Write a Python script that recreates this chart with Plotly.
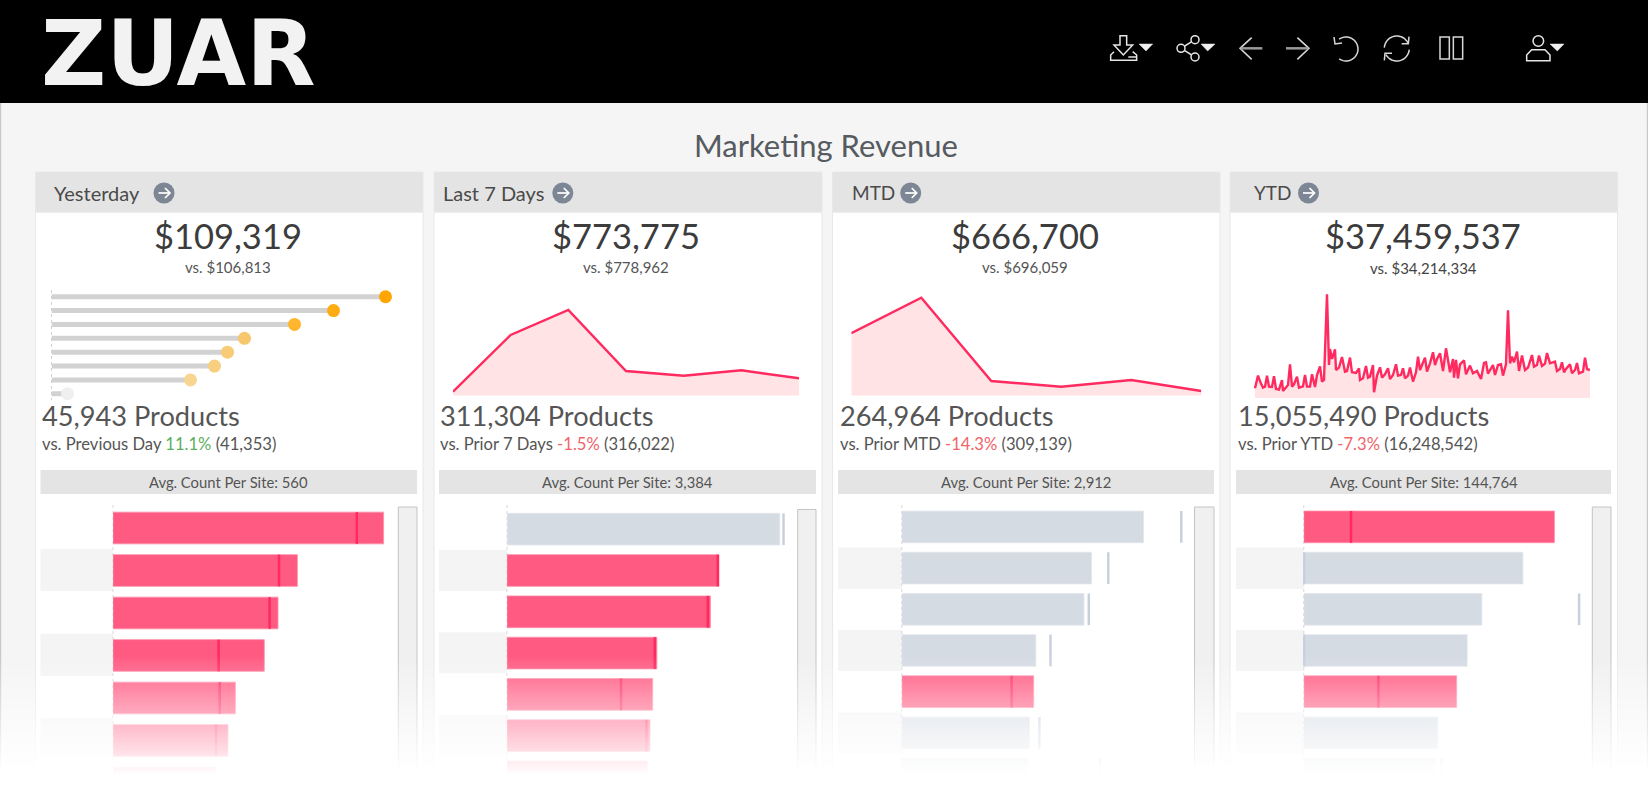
import math
import plotly.graph_objects as go

# ---------- data ----------
panel_names = ["Yesterday", "Last 7 Days", "MTD", "YTD"]
revenue_labels = ["$109,319", "$773,775", "$666,700", "$37,459,537"]
prior_revenue_labels = ["vs. $106,813", "vs. $778,962", "vs. $696,059", "vs. $34,214,334"]
product_labels = ["45,943 Products", "311,304 Products", "264,964 Products", "15,055,490 Products"]
compare_names = ["vs. Previous Day", "vs. Prior 7 Days", "vs. Prior MTD", "vs. Prior YTD"]
compare_pcts = ["11.1%", "-1.5%", "-14.3%", "-7.3%"]
compare_counts = ["(41,353)", "(316,022)", "(309,139)", "(16,248,542)"]
avg_labels = ["Avg. Count Per Site: 560", "Avg. Count Per Site: 3,384",
              "Avg. Count Per Site: 2,912", "Avg. Count Per Site: 144,764"]

yesterday_hours = [0, 1, 2, 3, 4, 5, 6, 7]
yesterday_values = [334, 282, 243, 193, 176, 163, 139, 16]

last7_days = [0, 1, 2, 3, 4, 5, 6]
last7_values = [4, 60.7, 85.7, 24.7, 20, 25.4, 17.4]

mtd_days = [0, 1, 2, 3, 4, 5]
mtd_values = [62.4, 98, 14.7, 9, 15.7, 4.7]

ytd_days = [1, 4, 7, 9, 11, 13, 15, 18, 20, 22, 25, 28, 29, 31, 34, 36, 38, 40, 43, 45,
            49, 51, 53, 56, 58, 61, 63, 66, 68, 70, 73, 75, 76, 78, 81, 82, 85, 88, 91, 93,
            96, 98, 102, 105, 106, 109, 112, 114, 116,
            119, 120, 123, 126, 128, 131, 134, 136, 139, 142,
            144, 147, 149, 151, 154, 156, 159, 162, 164, 166,
            168, 171, 173, 176, 179, 181, 183, 186, 189, 192,
            194, 196, 199, 200, 202, 204, 206, 210, 212, 216,
            219, 223, 227, 230,
            232, 234, 239, 241, 244, 247, 249, 252, 254, 256, 258, 260, 263, 265, 268, 271,
            274, 278, 280, 283, 285, 288, 291, 293, 296, 298, 301, 303, 306, 308, 310, 312,
            316, 318, 321, 323, 325, 329, 331, 333, 336]
ytd_values = [10, 22.7, 14.7, 10.7, 11.7, 22.7, 11.7, 11.3, 22, 9.3, 8.7, 18.3, 7.3, 10, 13.3, 34, 11.7, 14, 21.7, 10.7,
              12, 23.3, 11.7, 11.7, 24, 11.3, 23.3, 32, 16.7, 18.3, 104, 33.3, 49.3, 39.3, 49, 28.3, 30.7, 41.3, 26.7, 27.3,
              40.7, 26, 25.3, 30, 18.3, 20, 32.3, 20.7, 21.7,
              33.3, 6, 22.7, 31, 20.7, 24, 30, 19.3, 23.3, 34,
              22.7, 23.3, 30, 20, 22.7, 30.7, 16.7, 26, 41.7, 28.3,
              33.3, 40.7, 26.7, 35, 46, 33.3, 39.3, 45, 27.3, 50,
              38.3, 26, 39.3, 20.7, 38.3, 20, 34, 38, 24, 32.7,
              25, 27.3, 19.3, 35.3,
              36, 24.7, 33.3, 23.3, 33.3, 34, 22.7, 34, 88, 35, 41.7, 36, 46.7, 27.3, 42.7, 28.3,
              30.7, 43.3, 31.7, 33.3, 42.7, 32.3, 34.7, 45.3, 35, 36, 36.7, 27.3, 29.3, 36, 26, 29.3,
              34, 25, 28.3, 35.3, 25, 26.7, 40.7, 29.3, 28.3]

site_rows = [0, 1, 2, 3, 4, 5, 6]
site_current = [
    [270.6, 184.4, 165, 151.3, 122.4, 115, 103],
    [272.8, 211.9, 203.5, 149.9, 145.7, 143, 140.4],
    [241.7, 189.7, 182.2, 134, 131.9, 127.7, 126.1],
    [250.6, 219.1, 178.1, 163.4, 152.9, 134, 131.9],
]
site_prior = [
    [243.8, 166, 156.6, 105.6, 106.7, 103, None],
    [276.5, 210.8, 200.8, 147.8, 114, 139.4, None],
    [279.5, 206.5, 187, 148.7, 109.8, 137.6, 198.1],
    [47.2, 0.5, 275.3, 0.5, 74.6, None, 137.6],
]
site_flagged = [
    [1, 1, 1, 1, 1, 1, 1],
    [0, 1, 1, 1, 1, 1, 1],
    [0, 0, 0, 0, 1, 0, 0],
    [1, 0, 0, 0, 1, 0, 0],
]

# ---------- layout constants (pixels) ----------
W, H = 1648, 790
FONT = "Lato"
TXT = "#555555"
DARK = "#3c3c3c"
PINK = "#FF5A82"
PINK_LINE = "#FF2A5F"
SLATE = "#D5DBE3"
SLATE_LINE = "#C8D0DC"
PANEL_X = [(35.5, 423), (434, 822), (832.5, 1220), (1230, 1617.5)]
HEAD_TEXT_X = [54, 443, 852, 1254]
HEAD_SIZE = [20, 20, 19, 19]
HEAD_DOT_X = [164, 562.8, 910.7, 1308.5]
CENTER_X = [228, 626.4, 1025, 1423]
LEFT_X = [42, 440.4, 839.8, 1237.6]
AVG_X = [(40.5, 417), (439, 816), (838, 1214), (1236, 1611)]
AXIS_X = [113, 507, 901.8, 1303.8]
BAR_C0 = [528, 529.2, 526.9, 526.9]
BAR_STEP = [42.5, 41.3, 41.2, 41.2]
BAR_H = 31.7
SCROLL_X = [(398.3, 417), (797.7, 816), (1194.5, 1214), (1592.3, 1611)]
SCROLL_Y = [507, 509.5, 507, 507]
BAND_ROWS = [(549, 591), (633.7, 676), (718, 760)]
BAND_ROWS_B = [(550, 591), (632.3, 673.3), (715, 756.7)]
BAND_ROWS_C = [(547.5, 589), (630, 671), (712.5, 753.5)]
BANDS = [BAND_ROWS, BAND_ROWS_B, BAND_ROWS_C, BAND_ROWS_C]


def px(x):
    return x / W


def py(y):
    return 1 - y / H


shapes = []
annotations = []


def rect(x0, y0, x1, y1, fill, line=None, lw=0, layer="below", opacity=1):
    shapes.append(dict(type="rect", xref="paper", yref="paper", x0=px(x0), x1=px(x1), y0=py(y0), y1=py(y1),
                       fillcolor=fill, line=dict(color=line or fill, width=lw), layer=layer, opacity=opacity))


def poly(pts, color="#E6E6E6", lw=1.5, closed=False, fill=None, layer="above"):
    d = "M " + " L ".join(f"{px(x):.5f} {py(y):.5f}" for x, y in pts) + (" Z" if closed else "")
    shapes.append(dict(type="path", xref="paper", yref="paper", path=d, layer=layer,
                       line=dict(color=color, width=lw), fillcolor=fill or "rgba(0,0,0,0)"))


def circle(cx, cy, r, color="#E6E6E6", lw=1.5, fill=None, layer="above"):
    shapes.append(dict(type="circle", xref="paper", yref="paper", x0=px(cx - r), x1=px(cx + r),
                       y0=py(cy + r), y1=py(cy - r), layer=layer,
                       line=dict(color=color, width=lw), fillcolor=fill or "rgba(0,0,0,0)"))


def arc(cx, cy, r, a0, a1, n=24):
    return [(cx + r * math.cos(math.radians(a0 + (a1 - a0) * i / n)),
             cy + r * math.sin(math.radians(a0 + (a1 - a0) * i / n))) for i in range(n + 1)]


def text(x, y, s, size, color=TXT, anchor="left", family=FONT):
    annotations.append(dict(xref="paper", yref="paper", x=px(x), y=py(y), text=s, showarrow=False,
                            xanchor=anchor, yanchor="middle", align=anchor,
                            font=dict(family=family, size=size, color=color), borderpad=0, borderwidth=0))


# page chrome
rect(0, 103, W, H, "#F5F5F5")
rect(0, 0, W, 103, "#000000")
rect(0, 103, 1.2, H, "#C8C8C8")
rect(W - 1.2, 103, W, H, "#C8C8C8")
text(826, 145, "Marketing Revenue", 31, "#555B60", "center")
text(41, 53, "<b>ZUAR</b>", 90, "#F2F2F2", "left", "DejaVu Sans")

# toolbar icons
def z9(x, y):
    return (1100 + x / 3, 25 + y / 3)


def z10(x, y):
    return (1340 + x / 3, 25 + y / 3)


poly([z9(*p) for p in [(60, 32), (80, 32), (80, 60), (98, 60), (70, 90), (42, 60), (60, 60)]], closed=True)
poly([z9(*p) for p in [(42, 80), (32, 90), (32, 106), (110, 106), (110, 90), (98, 80)]])
poly([z9(85, 96), z9(110, 96)])
poly([z9(117, 57), z9(158, 57), z9(138, 78)], closed=True, fill="#F0F0F0", lw=0.5)
poly([z9(285, 44), z9(243, 70), z9(285, 96)])
circle(*z9(285, 44), 4, fill="#000000")
circle(*z9(243, 70), 4, fill="#000000")
circle(*z9(285, 96), 4, fill="#000000")
poly([z9(303, 57), z9(345, 57), z9(323, 78)], closed=True, fill="#F0F0F0", lw=0.5)
poly([z9(455, 38), z9(420, 70), z9(455, 103)], color="#D8D8D8")
poly([z9(422, 70), z9(487, 70)], color="#9A9A9A", lw=2.5)
poly([z9(592, 38), z9(627, 70), z9(592, 103)], color="#D8D8D8")
poly([z9(558, 70), z9(625, 70)], color="#9A9A9A", lw=2.5)
poly(arc(1346, 49, 12, -125, 125), color="#D8D8D8")
poly([(1334, 37), (1335, 44), (1342, 43)], color="#D8D8D8")
poly([z10(133, 68)] + arc(1396.8, 48.5, 12.5, 185, 330, 16) + [z10(205, 52)], color="#D8D8D8")
poly([z10(207, 35), z10(205, 56), z10(185, 56)], color="#D8D8D8")
poly(arc(1396.8, 48.5, 12.5, 5, 150, 16), color="#D8D8D8")
poly([z10(133, 106), z10(135, 85), z10(156, 85)], color="#D8D8D8")
poly([z10(300, 36), z10(328, 36), z10(328, 102), z10(300, 102)], closed=True, color="#D8D8D8")
poly([z10(340, 36), z10(368, 36), z10(368, 102), z10(340, 102)], closed=True, color="#D8D8D8")
circle(*z10(595, 48), 5.3)
poly([z10(560, 107), z10(560, 90), z10(575, 74), z10(615, 74), z10(630, 90), z10(630, 107)], closed=True)
poly([z10(630, 57), z10(672, 57), z10(652, 78)], closed=True, fill="#F0F0F0", lw=0.5)

# panels
for i in range(4):
    x0, x1 = PANEL_X[i]
    rect(x0, 212, x1, H, "#FFFFFF", "#E8E8E8", 1)
    rect(x0, 172, x1, 212, "#E4E4E4", "#E8E8E8", 1)
    text(HEAD_TEXT_X[i], 193, panel_names[i], HEAD_SIZE[i], "#4A4A4A")
    cx = HEAD_DOT_X[i]
    circle(cx, 193, 10.5, color="#7C8694", lw=0, fill="#7C8694")
    poly([(cx - 5.5, 193), (cx + 5.5, 193)], color="#FFFFFF", lw=1.7)
    poly([(cx + 1, 188), (cx + 6, 193), (cx + 1, 198)], color="#FFFFFF", lw=1.7)
    text(CENTER_X[i], 235.5, revenue_labels[i], 34.5, DARK, "center")
    text(CENTER_X[i], 267 if i < 3 else 268, prior_revenue_labels[i], 15, "#555555" if i < 3 else "#444444", "center")
    text(LEFT_X[i], 415, product_labels[i], 27.2, TXT)
    pct = "#5DAE5D" if not compare_pcts[i].startswith("-") else "#F0646A"
    text(LEFT_X[i], 444,
         f"{compare_names[i]} <span style='color:{pct}'>{compare_pcts[i]}</span> {compare_counts[i]}", 16.6, TXT)
    ax0, ax1 = AVG_X[i]
    rect(ax0, 470, ax1, 494, "#E4E4E4")
    text((ax0 + ax1) / 2, 482, avg_labels[i], 14.8, "#555555", "center")
    for b0, b1 in BANDS[i]:
        rect(ax0, b0, AXIS_X[i], b1, "#F4F4F4")
    s0, s1 = SCROLL_X[i]
    rect(s0, SCROLL_Y[i], s1, 790, "#F0F0F0", "#C4C4C4", 1)
    shapes.append(dict(type="line", xref="paper", yref="paper", x0=px(AXIS_X[i]), x1=px(AXIS_X[i]),
                       y0=py(505), y1=py(780), line=dict(color="#D8D8D8", width=1, dash="dot"), layer="below"))

layout_axes = {}
traces = []


def axes(n, xdom, ydom, xrange, yrange):
    sx, sy = ("", "") if n == 1 else (str(n), str(n))
    common = dict(showgrid=False, zeroline=False, showticklabels=False, ticks="", showline=False, fixedrange=True)
    layout_axes[f"xaxis{sx}"] = dict(domain=[px(xdom[0]), px(xdom[1])], range=xrange, anchor=f"y{sy}", **common)
    layout_axes[f"yaxis{sy}"] = dict(domain=[py(ydom[1]), py(ydom[0])], range=yrange, anchor=f"x{sx}", **common)
    return f"x{sx}", f"y{sy}"


# lollipop (Yesterday)
xa, ya = axes(1, (51.5, 401.5), (289.8, 400.7), [0, 350], [7.5, -0.5])
traces.append(go.Bar(x=yesterday_values, y=yesterday_hours, orientation="h", width=0.36,
                     marker=dict(color="#D2D2D2", line=dict(width=0)), xaxis=xa, yaxis=ya))
traces.append(go.Scatter(x=yesterday_values, y=yesterday_hours, mode="markers", cliponaxis=False, xaxis=xa, yaxis=ya,
                         marker=dict(size=13, line=dict(width=0),
                                     color=["#FFA600", "#FFAC12", "#FFB52E", "#F7C76B", "#F8CB76", "#F8CE7F", "#F9D592", "#EFEFEF"])))
shapes.append(dict(type="line", xref="paper", yref="paper", x0=px(51.5), x1=px(51.5), y0=py(290), y1=py(400),
                   line=dict(color="#D0D0D0", width=1, dash="dot"), layer="below"))

# area sparklines
def area(n, xs, ys, xdom, ydom, xr, yr):
    a, b = axes(n, xdom, ydom, xr, yr)
    traces.append(go.Scatter(x=xs, y=ys, mode="lines", fill="tozeroy", fillcolor="#FFE3E5", cliponaxis=False,
                             line=dict(color=PINK_LINE, width=2.4), xaxis=a, yaxis=b))


area(2, last7_days, last7_values, (453, 799), (295, 395.7), [0, 6], [0, 100.7])
area(3, mtd_days, mtd_values, (851.3, 1201.3), (290, 395.7), [0, 5], [0, 105.7])
area(4, ytd_days, ytd_values, (1254, 1590), (290, 398.3), [0, 336], [0, 108.3])

# site bars
for i in range(4):
    c0, s = BAR_C0[i], BAR_STEP[i]
    a, b = axes(5 + i, (AXIS_X[i], AXIS_X[i] + 300), (c0 - s / 2, 778), [0, 300], [(778 - c0) / s, -0.5])
    bar_col = [PINK if f else SLATE for f in site_flagged[i]]
    edge_col = ["#FF8FAA" if f else "#E3E7EC" for f in site_flagged[i]]
    tick_col = [PINK_LINE if f else SLATE_LINE for f in site_flagged[i]]
    traces.append(go.Bar(x=site_current[i], y=site_rows, orientation="h", width=BAR_H / s,
                         marker=dict(color=bar_col, line=dict(color=edge_col, width=0.8)), xaxis=a, yaxis=b))
    traces.append(go.Scatter(x=site_prior[i], y=site_rows, mode="markers", cliponaxis=False, xaxis=a, yaxis=b,
                             marker=dict(symbol="line-ns", size=BAR_H / 1.4, color=tick_col,
                                         line=dict(color=tick_col, width=2.5))))

# bottom fade to white
FADE_START, FADE_END, STEP = 655, 775, 2
for y in range(FADE_START, FADE_END, STEP):
    rect(0, y, W, y + STEP, "#FFFFFF", layer="above", opacity=min(1, (y + 1 - FADE_START) / (FADE_END - FADE_START)))
rect(0, FADE_END, W, H, "#FFFFFF", layer="above")

fig = go.Figure(traces)
fig.update_layout(width=W, height=H, margin=dict(l=0, r=0, t=0, b=0, pad=0), autosize=False, showlegend=False,
                  paper_bgcolor="#FFFFFF", plot_bgcolor="rgba(0,0,0,0)", barmode="overlay", hovermode=False,
                  shapes=shapes, annotations=annotations, **layout_axes)
fig.write_html("out.html", config=dict(displayModeBar=False),
               post_script="document.body.style.margin='0';document.body.style.overflow='hidden';")
